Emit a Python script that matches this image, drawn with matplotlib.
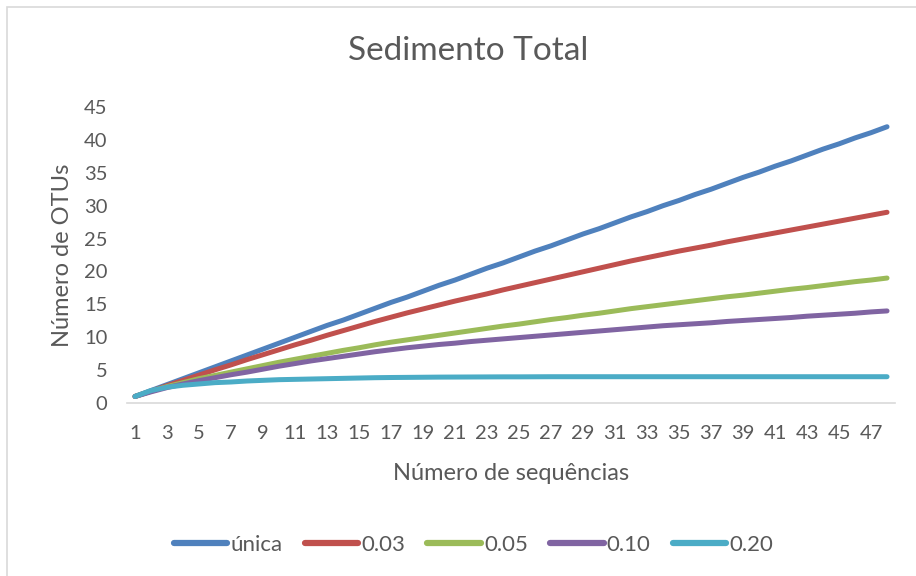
import matplotlib.pyplot as plt
from matplotlib.patches import Rectangle

plt.rcParams['font.family'] = ['Lato', 'DejaVu Sans']

seqs = list(range(1, 49))

unica = [1, 1.9, 2.8, 3.7, 4.6, 5.5, 6.4, 7.3, 8.2, 9.1, 10.0, 10.9, 11.8, 12.6, 13.5,
         14.4, 15.3, 16.1, 17.0, 17.9, 18.7, 19.6, 20.5, 21.3, 22.2, 23.1, 23.9, 24.8,
         25.7, 26.5, 27.4, 28.3, 29.1, 30.0, 30.8, 31.7, 32.5, 33.4, 34.3, 35.1, 36.0,
         36.8, 37.7, 38.6, 39.4, 40.3, 41.1, 42.0]
c003 = [1, 1.8, 2.65, 3.45, 4.25, 5.05, 5.8, 6.6, 7.35, 8.1, 8.85, 9.55, 10.3, 11.0,
        11.7, 12.4, 13.05, 13.7, 14.3, 14.9, 15.5, 16.05, 16.6, 17.2, 17.75, 18.3,
        18.85, 19.4, 19.95, 20.5, 21.05, 21.6, 22.1, 22.6, 23.1, 23.55, 24.0, 24.5,
        24.95, 25.4, 25.85, 26.3, 26.75, 27.2, 27.65, 28.1, 28.55, 29.0]
c005 = [1, 1.8, 2.5, 3.1, 3.7, 4.2, 4.7, 5.2, 5.7, 6.2, 6.65, 7.1, 7.55, 8.0, 8.4, 8.85,
        9.25, 9.6, 9.95, 10.3, 10.65, 11.0, 11.35, 11.7, 12.0, 12.35, 12.7, 13.0, 13.35,
        13.65, 14.0, 14.35, 14.65, 14.95, 15.25, 15.55, 15.85, 16.15, 16.4, 16.7, 17.0,
        17.3, 17.55, 17.85, 18.15, 18.45, 18.7, 19.0]
c010 = [1, 1.7, 2.35, 2.9, 3.4, 3.85, 4.3, 4.7, 5.15, 5.6, 6.0, 6.4, 6.75, 7.1, 7.45,
        7.8, 8.1, 8.4, 8.65, 8.9, 9.1, 9.35, 9.55, 9.75, 9.95, 10.15, 10.35, 10.55,
        10.75, 10.95, 11.15, 11.35, 11.55, 11.75, 11.9, 12.05, 12.2, 12.4, 12.55, 12.7,
        12.85, 13.0, 13.2, 13.35, 13.5, 13.65, 13.85, 14.0]
c020 = [1, 1.9, 2.4, 2.7, 2.9, 3.1, 3.2, 3.35, 3.45, 3.55, 3.6, 3.65, 3.7, 3.75, 3.8,
        3.85, 3.88, 3.9, 3.92, 3.94, 3.95, 3.96, 3.97, 3.98, 3.98, 3.99, 4, 4, 4, 4, 4,
        4, 4, 4, 4, 4, 4, 4, 4, 4, 4, 4, 4, 4, 4, 4, 4, 4]

labels = ['única', '0.03', '0.05', '0.10', '0.20']
series = [unica, c003, c005, c010, c020]
colors = ['#4F81BD', '#C0504D', '#9BBB59', '#8064A2', '#4BACC6']

txt = '#595959'

fig = plt.figure(figsize=(9.16, 5.76), dpi=100)
# chart area border (only left and top edges fall inside the picture)
fig.patches.append(Rectangle((7 / 916, -0.05), 1.0, 1 - 7 / 576 + 0.05,
                             transform=fig.transFigure, fill=False,
                             edgecolor='#d9d9d9', lw=1.2))
ax = fig.add_axes([0.1387, 0.3003, 0.8384, 0.5139])

for lab, vals, col in zip(labels, series, colors):
    ax.plot(seqs, vals, color=col, lw=3.6, label=lab,
            solid_capstyle='round', solid_joinstyle='round')

ax.set_xlim(0.5, 48.5)
ax.set_ylim(0, 45)
ax.set_yticks(range(0, 46, 5))
ax.set_xticks(range(1, 48, 2))
ax.tick_params(length=0, labelsize=14.5, labelcolor=txt)
ax.tick_params(axis='x', pad=16)
ax.tick_params(axis='y', pad=14)
for s in ['top', 'right', 'left']:
    ax.spines[s].set_visible(False)
ax.spines['bottom'].set_color('#d9d9d9')
ax.spines['bottom'].set_linewidth(1.2)

fig.text(0.511, 0.912, 'Sedimento Total', ha='center', va='center', fontsize=24, color=txt)
ax.set_xlabel('Número de sequências', fontsize=17, color=txt, labelpad=15)
ax.set_ylabel('Número de OTUs', fontsize=17, color=txt, labelpad=8)

leg = fig.legend(loc='center', bbox_to_anchor=(0.517, 0.054), ncol=5, frameon=False,
                 fontsize=16, handlelength=2.4, handletextpad=0.15, columnspacing=1.0,
                 labelcolor=txt)
for line in leg.get_lines():
    line.set_linewidth(4.5)

fig.savefig('out.png', dpi=100)
